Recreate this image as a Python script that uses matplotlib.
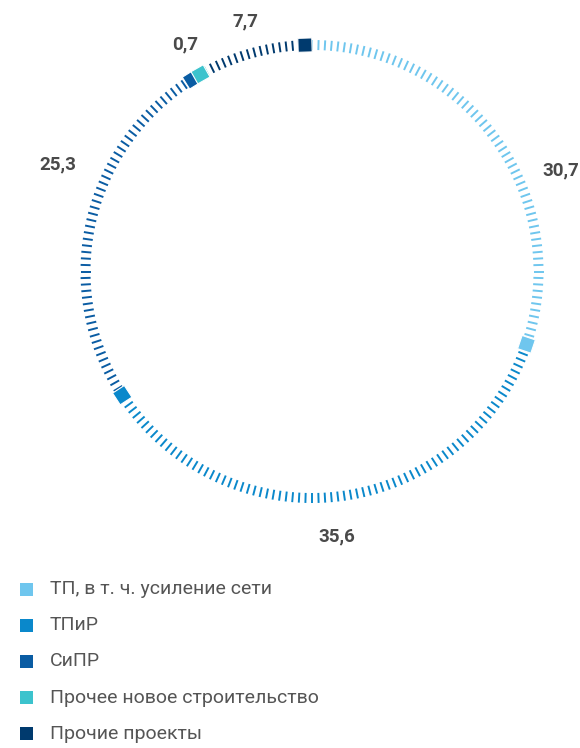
import numpy as np
import matplotlib
matplotlib.use('Agg')
import matplotlib.pyplot as plt
from matplotlib.collections import LineCollection
from matplotlib.patches import Polygon, Rectangle

# shares of investment program, %, clockwise from the top
categories = ['ТП, в т. ч. усиление сети', 'ТПиР', 'СиПР',
              'Прочее новое строительство', 'Прочие проекты']
values = [30.7, 35.6, 25.3, 0.7, 7.7]
value_labels = ['30,7', '35,6', '25,3', '0,7', '7,7']
colors = ['#6fc6ee', '#0a88cb', '#0a5ca3', '#3cc3cd', '#003a6e']

# layout (pixels)
W, H = 580, 748
CX, CY = 312, 271.5
R_OUT, R_IN = 231.5, 221.5
N_TICKS = 220
SQ = 14
label_r = [268.5, 266, 276, 260, 259]
label_shift = [12.7, 0, 8.5, -0.3, -1.0]   # degrees, moves label off the midpoint

plt.rcParams['font.family'] = ['Roboto', 'DejaVu Sans']

fig = plt.figure(figsize=(W / 100, H / 100), dpi=100)
ax = fig.add_axes([0, 0, 1, 1])
ax.set_xlim(0, W)
ax.set_ylim(H, 0)
ax.set_aspect('equal')
ax.axis('off')


def pt(theta, r):
    # theta in radians, clockwise from 12 o'clock
    return CX + r * np.sin(theta), CY - r * np.cos(theta)


bounds = np.cumsum([0] + values) / 100.0

# radial ticks
segs, seg_cols = [], []
for i in range(N_TICKS):
    frac = i / N_TICKS
    k = np.searchsorted(bounds, frac, side='right') - 1
    k = min(k, len(values) - 1)
    th = 2 * np.pi * frac
    segs.append([pt(th, R_IN), pt(th, R_OUT)])
    seg_cols.append(colors[k])
ax.add_collection(LineCollection(segs, colors=seg_cols, linewidths=1.4, zorder=2))

# squares at the end of each segment
rm = (R_IN + R_OUT) / 2
for k in range(len(values)):
    th_end = 2 * np.pi * bounds[k + 1]
    dth = SQ / rm
    thc = th_end - dth / 2
    t = np.array([np.cos(thc), np.sin(thc)])       # tangent dir (screen coords)
    n = np.array([np.sin(thc), -np.cos(thc)])      # outward normal
    c = np.array(pt(thc, rm))
    h = SQ / 2
    corners = [c - h * t - h * n, c + h * t - h * n, c + h * t + h * n, c - h * t + h * n]
    ax.add_patch(Polygon(corners, closed=True, facecolor=colors[k],
                         edgecolor='white', linewidth=0.8, zorder=3))

# value labels
for k in range(len(values)):
    mid = (bounds[k] + bounds[k + 1]) / 2 * 2 * np.pi + np.radians(label_shift[k])
    x, y = pt(mid, label_r[k])
    ax.text(x, y, value_labels[k], ha='center', va='center', fontsize=13.5,
            fontweight='bold', color='#4a4a4a')

# legend
for k, name in enumerate(categories):
    y = 589 + k * 36.2
    ax.add_patch(Rectangle((20, y - 6.5), 13, 13, facecolor=colors[k], edgecolor='none'))
    ax.text(50, y, name, ha='left', va='center', fontsize=14, color='#555555')

fig.savefig('out.png', dpi=100)
